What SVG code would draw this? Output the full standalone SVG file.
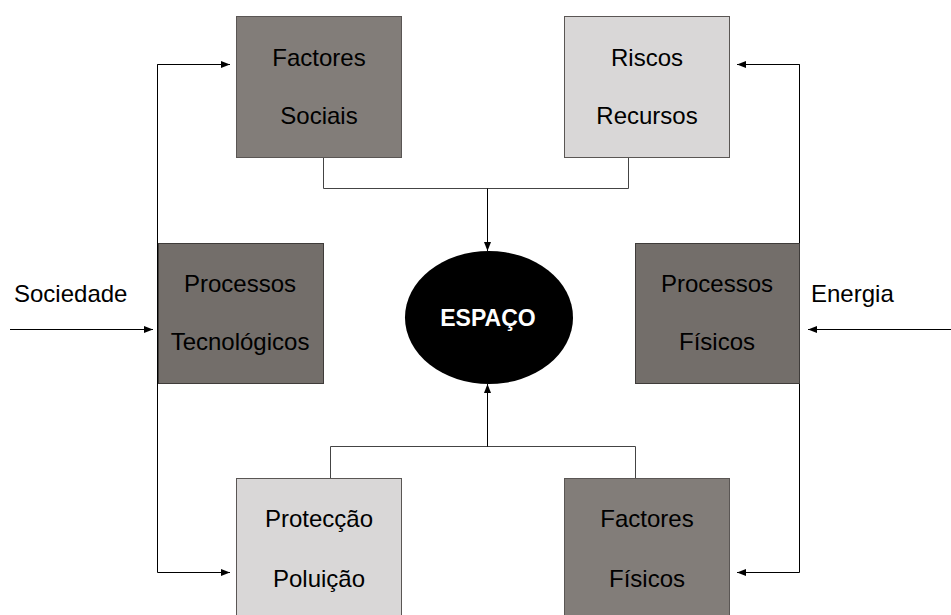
<svg xmlns="http://www.w3.org/2000/svg" width="951" height="615" viewBox="0 0 951 615">
<defs>
<marker id="ah" markerWidth="9" markerHeight="7" refX="9" refY="3.5" orient="auto" markerUnits="userSpaceOnUse">
<path d="M0,0 L9,3.5 L0,7 z" fill="#000"/>
</marker>
</defs>
<style>
.t{font-family:"Liberation Sans",Arial,sans-serif;font-size:24px;fill:#000;text-anchor:middle}
.l{font-family:"Liberation Sans",Arial,sans-serif;font-size:24px;fill:#000}
.dark{fill:#827d79;stroke:#5a5654;stroke-width:1}
.darker{fill:#736e6a;stroke:#3f3c3a;stroke-width:1}
.light{fill:#d9d7d7;stroke:#5a5654;stroke-width:1}
.c{fill:none;stroke:#000;stroke-width:1}
.g{fill:none;stroke:#444;stroke-width:1}
</style>
<rect width="951" height="615" fill="#fff"/>
<g id="connectors">
<polyline class="g" points="323.5,158 323.5,188.5 628.5,188.5 628.5,158"/>
<line class="c" x1="487.5" y1="188.5" x2="487.5" y2="251" marker-end="url(#ah)"/>
<polyline class="g" points="330.5,478 330.5,446.5 635.5,446.5 635.5,478"/>
<line class="c" x1="487.5" y1="446.5" x2="487.5" y2="384" marker-end="url(#ah)"/>
<polyline class="c" points="230,64.5 157.5,64.5 157.5,572.5 230,572.5" marker-end="url(#ah)"/>
<line class="c" x1="157.5" y1="64.5" x2="230" y2="64.5" marker-end="url(#ah)"/>
<polyline class="c" points="737,64.5 799.5,64.5 799.5,572.5 737,572.5" marker-end="url(#ah)"/>
<line class="c" x1="799.5" y1="64.5" x2="737" y2="64.5" marker-end="url(#ah)"/>
<line class="c" x1="10" y1="329.5" x2="153" y2="329.5" marker-end="url(#ah)"/>
<line class="c" x1="951" y1="329.5" x2="808" y2="329.5" marker-end="url(#ah)"/>
</g>
<g id="factores-sociais">
<rect class="dark" x="236.5" y="16.5" width="165" height="141"/>
<text class="t" x="319" y="66">Factores</text>
<text class="t" x="319" y="124">Sociais</text>
</g>
<g id="riscos-recursos">
<rect class="light" x="564.5" y="16.5" width="165" height="141"/>
<text class="t" x="647" y="66">Riscos</text>
<text class="t" x="647" y="124">Recursos</text>
</g>
<g id="processos-tecnologicos">
<rect class="darker" x="158.5" y="243.5" width="165" height="140"/>
<text class="t" x="240" y="292">Processos</text>
<text class="t" x="240" y="350">Tecnológicos</text>
</g>
<g id="processos-fisicos">
<rect class="darker" x="635.5" y="243.5" width="164" height="140"/>
<text class="t" x="717" y="292">Processos</text>
<text class="t" x="717" y="350">Físicos</text>
</g>
<g id="proteccao-poluicao">
<rect class="light" x="236.5" y="478.5" width="165" height="145"/>
<text class="t" x="319" y="527">Protecção</text>
<text class="t" x="319" y="587">Poluição</text>
</g>
<g id="factores-fisicos">
<rect class="dark" x="564.5" y="478.5" width="165" height="145"/>
<text class="t" x="647" y="527">Factores</text>
<text class="t" x="647" y="587">Físicos</text>
</g>
<g id="espaco">
<ellipse cx="489" cy="317.5" rx="84" ry="66.5" fill="#000"/>
<text x="488" y="326" font-family="Liberation Sans,Arial,sans-serif" font-size="23" font-weight="bold" fill="#fff" text-anchor="middle">ESPAÇO</text>
</g>
<g id="labels">
<text class="l" x="14" y="302">Sociedade</text>
<text class="l" x="811" y="302">Energia</text>
</g>
</svg>
